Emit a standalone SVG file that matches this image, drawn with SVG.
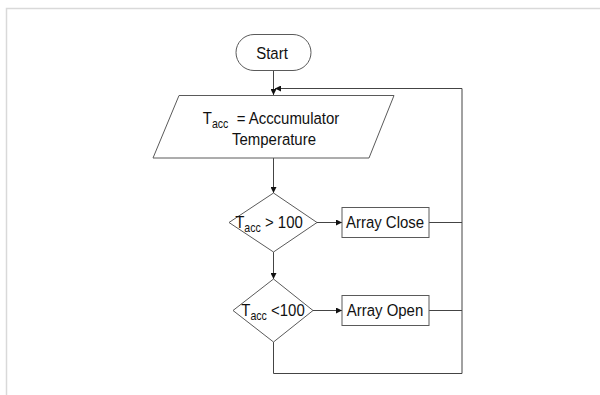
<svg xmlns="http://www.w3.org/2000/svg" width="600" height="395" viewBox="0 0 600 395">
  <style>
    .shape { fill: #ffffff; stroke: #5a5a5a; stroke-width: 1; }
    .label { font-family: "Liberation Sans", Arial, sans-serif; font-size: 17px; fill: #111111; text-anchor: middle; }
    .sub { font-size: 12px; }
    .wire { fill: none; stroke: #444444; stroke-width: 1; }
    .frame { fill: none; stroke: #d9d9d9; stroke-width: 1.5; }
  </style>
  <defs>
    <marker id="arrow" viewBox="0 0 10 10" refX="10" refY="5" markerWidth="6" markerHeight="6" markerUnits="userSpaceOnUse" orient="auto">
      <path d="M0,0 L10,5 L0,10 Z" fill="#111111"/>
    </marker>
  </defs>

  <rect width="600" height="395" fill="#ffffff"/>
  <path class="frame" d="M6.5,395 V8.5 H600"/>

  <g id="connectors">
    <line class="wire" x1="273.5" y1="70" x2="273.5" y2="95" marker-end="url(#arrow)"/>
    <polyline class="wire" points="429,222.5 462,222.5"/>
    <polyline class="wire" points="429,310.5 462,310.5"/>
    <polyline class="wire" points="273.5,342 273.5,373.5 462,373.5 462,88.5 275,88.5" marker-end="url(#arrow)"/>
    <line class="wire" x1="273.5" y1="158" x2="273.5" y2="193" marker-end="url(#arrow)"/>
    <line class="wire" x1="273.5" y1="252" x2="273.5" y2="279" marker-end="url(#arrow)"/>
    <line class="wire" x1="317" y1="222.5" x2="342" y2="222.5" marker-end="url(#arrow)"/>
    <line class="wire" x1="313" y1="310.5" x2="342" y2="310.5" marker-end="url(#arrow)"/>
  </g>

  <!-- labels use a slightly condensed face: 17px glyphs squeezed to 88% width -->
  <g id="start">
    <rect class="shape" x="236" y="34.5" width="75" height="36" rx="18" ry="18"/>
    <text class="label" transform="translate(272,58.5) scale(0.88,1)">Start</text>
  </g>

  <g id="input-temperature">
    <polygon class="shape" points="179,95.5 394,95.5 369,158 153,158"/>
    <text class="label" xml:space="preserve" transform="translate(271,123.5) scale(0.88,1)">T<tspan class="sub" dy="4">acc</tspan><tspan dy="-4">  = Acccumulator</tspan></text>
    <text class="label" transform="translate(274,144.5) scale(0.88,1)">Temperature</text>
  </g>

  <g id="check-high">
    <polygon class="shape" points="273.5,193 317,222.5 273.5,252 229,222.5"/>
    <text class="label" transform="translate(269,228) scale(0.88,1)">T<tspan class="sub" dy="4">acc</tspan><tspan dy="-4"> &gt; 100</tspan></text>
  </g>

  <g id="array-close">
    <rect class="shape" x="342" y="207.5" width="87" height="30"/>
    <text class="label" transform="translate(385,228) scale(0.88,1)">Array Close</text>
  </g>

  <g id="check-low">
    <polygon class="shape" points="273.5,279 313,310.5 273.5,342 233,310.5"/>
    <text class="label" transform="translate(273,316) scale(0.88,1)">T<tspan class="sub" dy="4">acc</tspan><tspan dy="-4"> &lt;100</tspan></text>
  </g>

  <g id="array-open">
    <rect class="shape" x="342" y="295.5" width="87" height="30"/>
    <text class="label" transform="translate(385,316) scale(0.88,1)">Array Open</text>
  </g>
</svg>
